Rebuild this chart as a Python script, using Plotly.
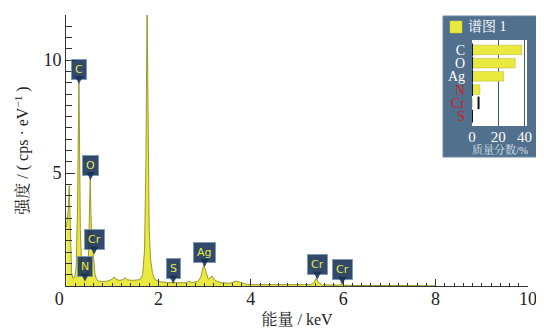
import plotly.graph_objects as go

# ---- spectrum data (keV, cps/eV) ----
energy = [0.01, 0.03, 0.05, 0.07, 0.085, 0.10, 0.12, 0.15, 0.19, 0.22, 0.25, 0.27, 0.28, 0.29,
          0.31, 0.34, 0.37, 0.40, 0.43, 0.46, 0.49, 0.51, 0.525, 0.54, 0.56, 0.58, 0.60, 0.63,
          0.66, 0.70, 0.80, 0.90, 1.00, 1.04, 1.08, 1.15, 1.24, 1.28, 1.32, 1.45, 1.60, 1.66,
          1.70, 1.73, 1.755, 1.775, 1.80, 1.83, 1.87, 1.92, 2.00, 2.20, 2.31, 2.40, 2.60, 2.66,
          2.72, 2.85, 2.92, 2.98, 3.03, 3.08, 3.12, 3.16, 3.22, 3.35, 3.55, 3.68, 3.75, 3.90,
          4.10, 4.50, 5.00, 5.30, 5.36, 5.41, 5.47, 5.55, 5.90, 5.95, 6.00, 6.30, 7.00, 8.00]
counts = [2.6, 2.9, 3.4, 4.45, 3.0, 1.3, 0.6, 0.35, 0.4, 0.8, 3.5, 7.5, 9.0, 7.0,
          2.5, 0.8, 0.5, 0.45, 0.5, 0.7, 1.5, 3.5, 4.8, 3.2, 1.8, 1.6, 1.2, 0.5,
          0.3, 0.22, 0.2, 0.22, 0.3, 0.4, 0.3, 0.25, 0.28, 0.38, 0.27, 0.25, 0.28, 0.5,
          1.6, 5.5, 12.5, 7.0, 2.5, 1.2, 0.6, 0.3, 0.2, 0.15, 0.15, 0.13, 0.14, 0.22,
          0.15, 0.2, 0.4, 0.95, 0.65, 0.3, 0.35, 0.45, 0.25, 0.15, 0.12, 0.22, 0.18, 0.08,
          0.06, 0.05, 0.05, 0.06, 0.15, 0.33, 0.15, 0.05, 0.04, 0.07, 0.04, 0.02, 0.02, 0.01]

# ---- element labels on the spectrum ----
label_text = ["C", "N", "O", "Cr", "S", "Ag", "Cr", "Cr"]
label_e = [0.28, 0.41, 0.53, 0.61, 2.32, 3.00, 5.44, 5.98]
label_y = [8.94, 0.20, 4.69, 1.40, 0.10, 0.84, 0.28, 0.06]

# ---- inset: mass fraction ----
elements = ["C", "O", "Ag", "N", "Cr", "S"]
element_colors = ["#ffffff", "#ffffff", "#ffffff", "#d0202a", "#d0202a", "#d0202a"]
mass_pct = [38, 33, 24, 6, 0, 0]
mark_pos = [0, 0, 0, 0, 5, 0]

x_ticks = [0, 2, 4, 6, 8, 10]
x_ticktext = ["0   ", "2", "4", "6", "8", "10"]
y_ticks = [5, 10]

SERIF = "Liberation Serif, Noto Serif CJK SC, Noto Sans CJK SC, serif"
NAVY = "rgba(22,48,84,0.88)"
YEL = "#e9e93f"

# plot area in window pixels (page has an 8px body margin)
PL, PR, PT, PB = 66, 528, 15, 286
PW, PH = PR - PL, PB - PT


def px(x):
    return (x - PL) / PW


def py(y):
    return (PB - y) / PH


fig = go.Figure()
fig.add_trace(go.Scatter(
    x=energy, y=counts, mode="lines", fill="tozeroy",
    fillcolor=YEL, line=dict(color="#9a9a2c", width=1),
    showlegend=False, hoverinfo="skip"))

# inset bars
fig.add_trace(go.Bar(
    x=mass_pct, y=elements, orientation="h", xaxis="x2", yaxis="y2",
    marker=dict(color=YEL, line=dict(color="#b5b530", width=0.5)),
    width=0.72, showlegend=False, hoverinfo="skip"))
fig.add_trace(go.Scatter(
    x=mark_pos, y=elements, mode="markers", xaxis="x2", yaxis="y2",
    marker=dict(symbol="line-ns", size=9, line=dict(color="#111111", width=2)),
    showlegend=False, hoverinfo="skip"))

# element labels
for t, e, v in zip(label_text, label_e, label_y):
    fig.add_annotation(
        x=e, y=v, xref="x", yref="y", text=t, showarrow=True,
        ax=0, ay=-15, arrowhead=2, arrowsize=1, arrowwidth=1.6,
        arrowcolor=NAVY, standoff=0,
        bgcolor=NAVY, bordercolor="rgba(120,150,190,0.8)", borderwidth=1, borderpad=3,
        font=dict(family="DejaVu Sans, sans-serif", size=11, color="#e8e84a"))

# inset panel background
fig.add_shape(type="rect", xref="paper", yref="paper",
              x0=px(443), x1=px(537), y0=py(157), y1=py(16),
              fillcolor="#51708e", line=dict(color="#6c88a4", width=1), layer="below")
# legend square
fig.add_shape(type="rect", xref="paper", yref="paper",
              x0=px(450), x1=px(462), y0=py(33), y1=py(21),
              fillcolor=YEL, line=dict(color="#c8c840", width=0.5))
fig.add_annotation(xref="paper", yref="paper", x=px(466), y=py(27),
                   xanchor="left", yanchor="middle", showarrow=False, text="谱图 1",
                   font=dict(family=SERIF, size=14, color="#ffffff"))
fig.add_annotation(xref="paper", yref="paper", x=px(500), y=py(149),
                   xanchor="center", yanchor="middle", showarrow=False, text="质量分数/%",
                   font=dict(family=SERIF, size=11, color="#dde4ec"))

fig.update_layout(
    width=536, height=325,
    margin=dict(l=PL - 8, r=544 - PR, t=PT - 8, b=333 - PB, autoexpand=False),
    paper_bgcolor="white", plot_bgcolor="white",
    font=dict(family=SERIF, size=17, color="#222222"),
    xaxis=dict(
        range=[0, 10], tickvals=x_ticks, ticktext=x_ticktext, ticks="inside",
        ticklen=7, tickwidth=1, tickcolor="#333333", automargin=False,
        minor=dict(dtick=0.2, ticks="inside", ticklen=3, tickcolor="#333333"),
        showline=True, linecolor="#333333", linewidth=1, showgrid=False, zeroline=False,
        tickfont=dict(family=SERIF, size=18), ticklabelstandoff=-4,
        title=dict(text="能量 / keV", font=dict(family=SERIF, size=16), standoff=6)),
    yaxis=dict(
        range=[0, 12], tickvals=y_ticks, ticks="inside",
        ticklen=9, tickwidth=1, tickcolor="#333333", automargin=False,
        minor=dict(dtick=0.5, ticks="inside", ticklen=6, tickcolor="#333333"),
        showline=True, linecolor="#333333", linewidth=1, showgrid=False, zeroline=False,
        tickfont=dict(family=SERIF, size=18),
        title=dict(text="强度 / ( cps · eV<sup>−1</sup> )", font=dict(family=SERIF, size=16), standoff=10)),
    xaxis2=dict(
        domain=[px(472), px(527)], anchor="y2", range=[0, 42],
        tickvals=[0, 20, 40], showgrid=True, gridcolor="#3f5b77", gridwidth=1,
        zeroline=False, showline=False, ticks="", automargin=False,
        tickfont=dict(family=SERIF, size=15, color="#ffffff")),
    yaxis2=dict(
        domain=[py(126), py(40)], anchor="x2",
        categoryorder="array", categoryarray=elements[::-1],
        tickvals=elements, automargin=False,
        ticktext=[f'<span style="color:{c}">{e}</span>' for e, c in zip(elements, element_colors)],
        showgrid=False, zeroline=False, showline=False, ticks="", ticklabelstandoff=6,
        tickfont=dict(family=SERIF, size=14, color="#ffffff")),
    bargap=0.25,
)

fig.write_html("out.html")
